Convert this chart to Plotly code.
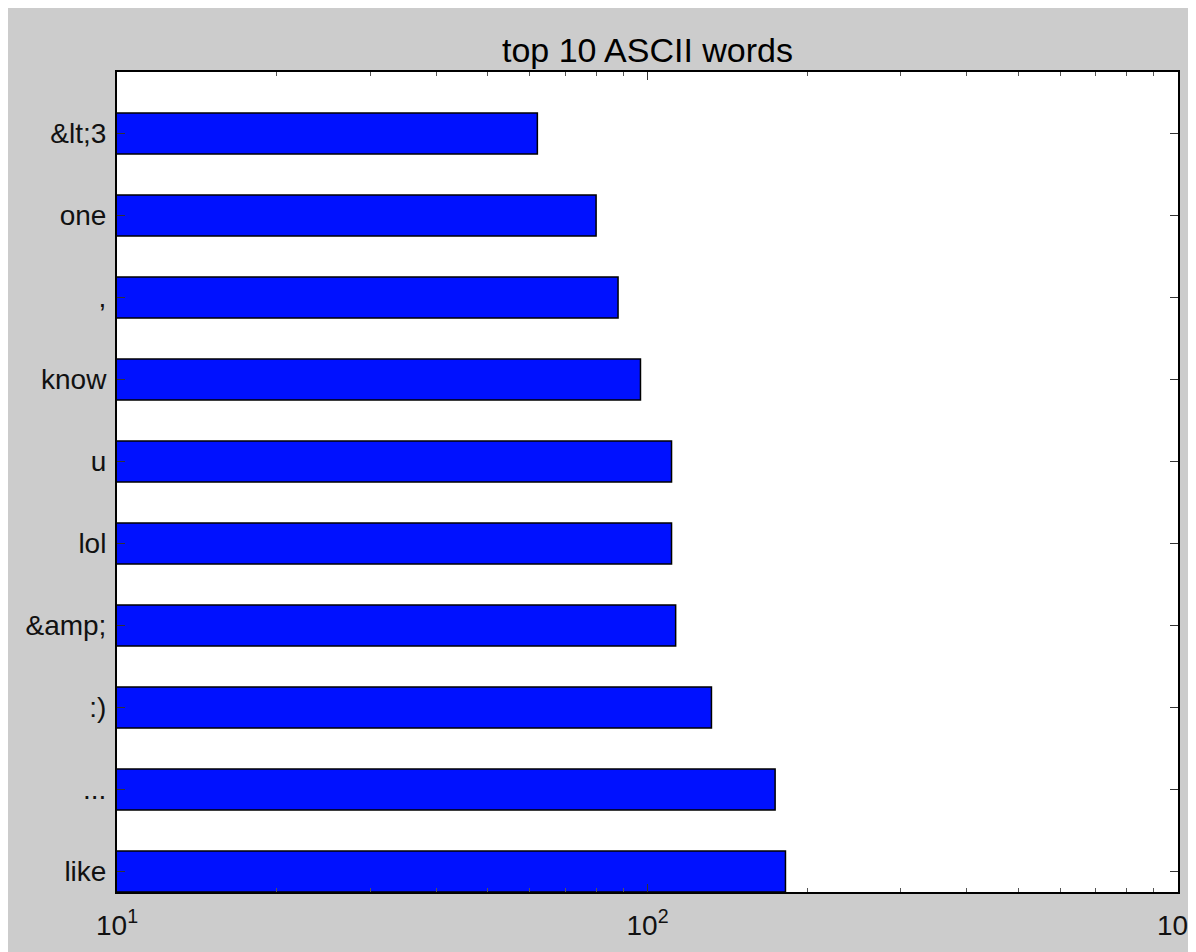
import plotly.graph_objects as go

# data (bottom to top)
words = ["like", "...", ":)", "&amp;", "lol", "u", "know", ",", "one", "&lt;3"]
counts = [182, 174, 132, 113, 111, 111, 97, 88, 80, 62]
title_text = "top 10 ASCII words"
x_tick_vals = [10, 100, 1000]
x_tick_text = ["10<sup>1</sup>", "10<sup>2</sup>", "10<sup>3</sup>"]


def esc(s):
    return s.replace("&", "&amp;").replace("<", "&lt;").replace(">", "&gt;")


# page has an 8px body margin, so the figure is drawn offset by (8, 8)
W, H = 1196, 952
ML, MR, MT, MB = 109, 26, 64, 68
FONT = "Liberation Sans, Arial, Helvetica, sans-serif"

minor_vals = [m * 10 ** e for e in (1, 2) for m in range(2, 10)]

fig = go.Figure(
    go.Bar(
        x=counts,
        y=words,
        orientation="h",
        width=0.5,
        marker=dict(color="#0011ff", line=dict(color="black", width=1.5)),
        hoverinfo="x+y",
    )
)

fig.update_layout(
    template="none",
    width=W,
    height=H,
    margin=dict(l=ML, r=MR, t=MT, b=MB, pad=0),
    paper_bgcolor="#cccccc",
    plot_bgcolor="white",
    showlegend=False,
    font=dict(family=FONT, color="#111111"),
    title=dict(
        text=title_text,
        x=0.5,
        xref="paper",
        xanchor="center",
        y=1 - 42 / H,
        yref="container",
        yanchor="middle",
        font=dict(size=34, color="#000000", family=FONT),
    ),
)

fig.update_xaxes(
    type="log",
    range=[1, 3],
    tickmode="array",
    tickvals=x_tick_vals,
    ticktext=x_tick_text,
    ticks="inside",
    ticklen=8,
    tickwidth=1,
    tickcolor="#333333",
    showline=True,
    linecolor="black",
    linewidth=2,
    mirror="allticks",
    showgrid=False,
    zeroline=False,
    automargin=False,
    tickfont=dict(size=28, color="#111111", family=FONT),
    ticklabelstandoff=7,
    minor=dict(tickmode="array", tickvals=minor_vals, ticks="inside",
               ticklen=4, tickwidth=1, tickcolor="#555555", showgrid=False),
)

fig.update_yaxes(
    type="category",
    categoryorder="array",
    categoryarray=words,
    range=[-0.25, len(words) - 0.25],
    tickmode="array",
    tickvals=words,
    ticktext=[esc(w) for w in words],
    ticks="inside",
    ticklen=8,
    tickwidth=1,
    tickcolor="#333333",
    showline=True,
    linecolor="black",
    linewidth=2,
    mirror="allticks",
    showgrid=False,
    zeroline=False,
    automargin=False,
    tickfont=dict(size=28, color="#111111", family=FONT),
    ticklabelstandoff=3,
)

fig.write_html("out.html")
